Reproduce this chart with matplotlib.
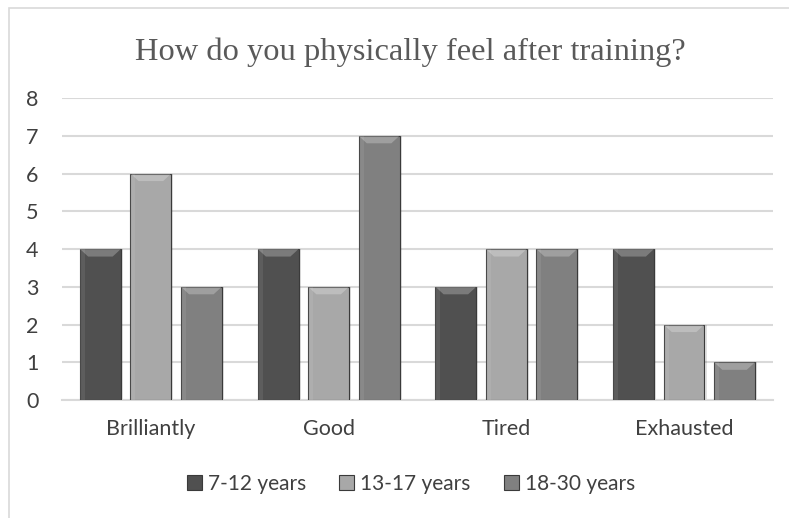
import numpy as np
import matplotlib.pyplot as plt
from matplotlib.patches import Polygon, Rectangle

# data
categories = ['Brilliantly', 'Good', 'Tired', 'Exhausted']
series_names = ['7-12 years', '13-17 years', '18-30 years']
age_7_12 = [4, 4, 3, 4]
age_13_17 = [6, 3, 4, 2]
age_18_30 = [3, 7, 4, 1]
colors = ['#505050', '#a8a8a8', '#808080']

fig = plt.figure(figsize=(7.89, 5.18), dpi=100)
ax = fig.add_axes([0.0786, 0.2278, 0.901, 0.583])

# chart border
fig.add_artist(Rectangle((0.011, -0.05), 1.1, 1.034, transform=fig.transFigure,
                         fill=False, edgecolor='#d9d9d9', linewidth=1.2))

x = np.arange(len(categories))
w = 0.23
gap = 0.054
all_vals = [age_7_12, age_13_17, age_18_30]
for i, (vals, c, name) in enumerate(zip(all_vals, colors, series_names)):
    off = (i - 1) * (w + gap)
    # soft shadow
    ax.bar(x + off + 0.012, vals, w, bottom=0, color='#000000', alpha=0.12, zorder=2)
    bars = ax.bar(x + off, vals, w, color=c, edgecolor='#3a3a3a', linewidth=0.8,
                  zorder=3, label=name)
    # bevel on top of each bar
    for b in bars:
        bx, bw, bh = b.get_x(), b.get_width(), b.get_height()
        d = 0.2
        ax.add_patch(Polygon([(bx, bh), (bx + bw, bh), (bx + bw - bw * 0.2, bh - d),
                              (bx + bw * 0.2, bh - d)], closed=True,
                             facecolor='white', alpha=0.25, edgecolor='none', zorder=4))
        ax.add_patch(Rectangle((bx, 0), bw * 0.12, bh, facecolor='white', alpha=0.08,
                               edgecolor='none', zorder=4))

ax.set_xlim(-0.5, 3.5)
ax.set_ylim(0, 8)
ax.set_yticks(range(0, 9))
ax.set_xticks(x)
ax.set_xticklabels(categories)
ax.yaxis.grid(True, color='#d9d9d9', linewidth=1.5, zorder=0)
ax.set_axisbelow(True)
for s in ['top', 'right', 'left']:
    ax.spines[s].set_visible(False)
ax.spines['bottom'].set_color('#d9d9d9')
ax.spines['bottom'].set_linewidth(1.5)
ax.tick_params(axis='both', length=0, labelsize=15.5, colors='#404040')
for lbl in ax.get_xticklabels() + ax.get_yticklabels():
    lbl.set_fontfamily('Lato')
ax.tick_params(axis='x', pad=14)
ax.tick_params(axis='y', pad=17)

fig.text(0.52, 0.9, 'How do you physically feel after training?', ha='center', va='center',
         fontsize=23.4, family='Liberation Serif', color='#595959')

leg = fig.legend(loc='center', bbox_to_anchor=(0.521, 0.066), ncol=3, frameon=False,
                 prop={'family': 'Lato', 'size': 15}, handlelength=0.7,
                 handleheight=0.7, handletextpad=0.3, columnspacing=1.6)
for t in leg.get_texts():
    t.set_color('#404040')

fig.savefig('out.png', dpi=100)
